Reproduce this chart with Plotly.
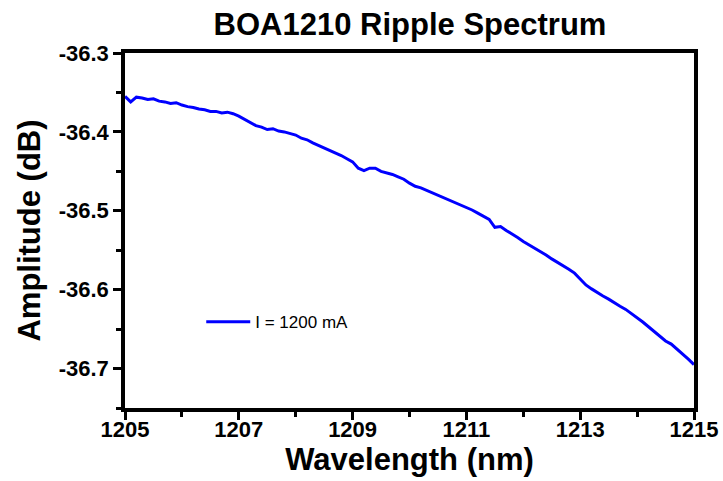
import plotly.graph_objects as go

wavelength_nm = [
    1205.0, 1205.1, 1205.2, 1205.3, 1205.4, 1205.5, 1205.6, 1205.7, 1205.8, 1205.9,
    1206.0, 1206.1, 1206.2, 1206.3, 1206.4, 1206.5, 1206.6, 1206.7, 1206.8, 1206.9,
    1207.0, 1207.1, 1207.2, 1207.3, 1207.4, 1207.5, 1207.6, 1207.7, 1207.8, 1207.9,
    1208.0, 1208.1, 1208.2, 1208.3, 1208.4, 1208.5, 1208.6, 1208.7, 1208.8, 1208.9,
    1209.0, 1209.1, 1209.2, 1209.3, 1209.4, 1209.5, 1209.6, 1209.7, 1209.8, 1209.9,
    1210.0, 1210.1, 1210.2, 1210.3, 1210.4, 1210.5, 1210.6, 1210.7, 1210.8, 1210.9,
    1211.0, 1211.1, 1211.2, 1211.3, 1211.4, 1211.5, 1211.6, 1211.7, 1211.8, 1211.9,
    1212.0, 1212.1, 1212.2, 1212.3, 1212.4, 1212.5, 1212.6, 1212.7, 1212.8, 1212.9,
    1213.0, 1213.1, 1213.2, 1213.3, 1213.4, 1213.5, 1213.6, 1213.7, 1213.8, 1213.9,
    1214.0, 1214.1, 1214.2, 1214.3, 1214.4, 1214.5, 1214.6, 1214.7, 1214.8, 1214.9,
    1215.0,
]

amplitude_db = [
    -36.355, -36.362, -36.356, -36.357, -36.359, -36.358, -36.361, -36.362, -36.364, -36.363,
    -36.366, -36.368, -36.369, -36.371, -36.372, -36.374, -36.374, -36.376, -36.375, -36.377,
    -36.380, -36.384, -36.389, -36.392, -36.394, -36.397, -36.396, -36.399, -36.400, -36.402,
    -36.404, -36.408, -36.410, -36.414, -36.417, -36.420, -36.424, -36.427, -36.430, -36.434,
    -36.438, -36.446, -36.449, -36.446, -36.446, -36.450, -36.452, -36.454, -36.457, -36.460,
    -36.465, -36.469, -36.471, -36.474, -36.477, -36.480, -36.483, -36.486, -36.489, -36.493,
    -36.496, -36.499, -36.503, -36.507, -36.511, -36.521, -36.520, -36.525, -36.529, -36.534,
    -36.539, -36.543, -36.547, -36.552, -36.556, -36.561, -36.565, -36.569, -36.574, -36.579,
    -36.586, -36.594, -36.599, -36.604, -36.608, -36.612, -36.617, -36.621, -36.625, -36.630,
    -36.635, -36.641, -36.647, -36.653, -36.659, -36.665, -36.669, -36.675, -36.681, -36.688,
    -36.695,
]

series_name = "I = 1200 mA"
x_ticks = [1205, 1207, 1209, 1211, 1213, 1215]
y_ticks = [-36.3, -36.4, -36.5, -36.6, -36.7]
y_minor = [-36.35, -36.45, -36.55, -36.65, -36.75]

fig = go.Figure()
fig.add_trace(go.Scatter(
    x=wavelength_nm, y=amplitude_db, mode="lines", name=series_name,
    line=dict(color="#0000FF", width=3),
))

tick_font = dict(family="Liberation Sans, Arial", size=22, color="black")
title_font = dict(family="Liberation Sans, Arial", size=31, color="black")

L, T, PW, PH = 125, 53, 569, 355
W, H = 723, 481

fig.update_layout(
    width=W, height=H,
    margin=dict(l=L, r=W - L - PW, t=T, b=H - T - PH, autoexpand=False),
    paper_bgcolor="white", plot_bgcolor="white",
    title=dict(text="<b>BOA1210 Ripple Spectrum</b>", x=410 / W, xanchor="center",
               y=1 - 24 / H, yanchor="middle", font=title_font),
    showlegend=True,
    legend=dict(x=0.134, y=0.242, xanchor="left", yanchor="middle", bgcolor="rgba(0,0,0,0)",
                font=dict(family="Liberation Sans, Arial", size=17, color="black"),
                itemwidth=44),
)

fig.update_xaxes(
    range=[1205, 1215], tickvals=x_ticks, ticktext=[f"<b>{v}</b>" for v in x_ticks],
    ticks="outside", ticklen=8, tickwidth=3, tickcolor="black", ticklabelstandoff=-9,
    minor=dict(dtick=1, ticks="outside", ticklen=5, tickwidth=3, tickcolor="black", showgrid=False),
    showline=True, linewidth=3.5, linecolor="black", mirror=True, automargin=False,
    showgrid=False, zeroline=False, tickfont=tick_font,
    title=dict(text="<b>Wavelength (nm)</b>", font=title_font, standoff=5),
)
fig.update_yaxes(
    range=[-36.75, -36.3], tickvals=y_ticks, ticktext=[f"<b>{v:.1f}</b>" for v in y_ticks],
    ticks="outside", ticklen=8, tickwidth=3, tickcolor="black",
    minor=dict(tickvals=y_minor, ticks="outside", ticklen=5,
               tickwidth=3, tickcolor="black", showgrid=False),
    showline=True, linewidth=3.5, linecolor="black", mirror=True, automargin=False,
    showgrid=False, zeroline=False, tickfont=tick_font,
    title=dict(text="<b>Amplitude (dB)</b>", font=title_font, standoff=10),
)

# remove the browser's default 8px body margin so the figure fills the window exactly
fig.write_html(
    "out.html",
    config={"displayModeBar": False},
    post_script="document.body.style.margin='0';document.body.style.overflow='hidden';",
)
